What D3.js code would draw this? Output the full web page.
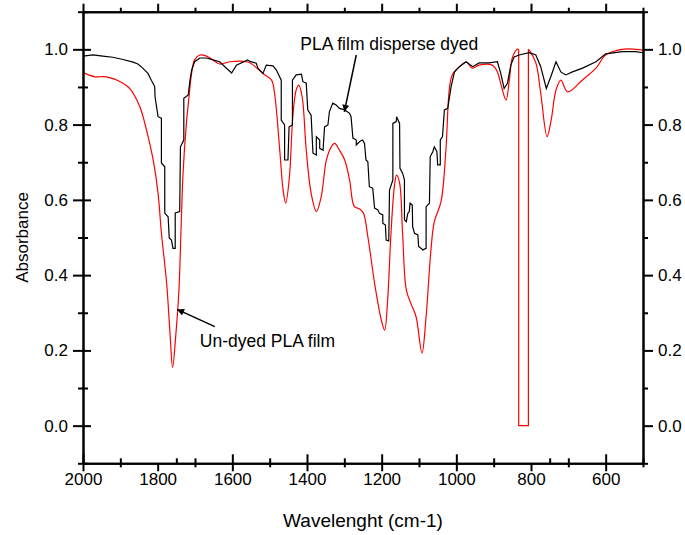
<!DOCTYPE html>
<html>
<head>
<meta charset="utf-8">
<script src="https://cdn.jsdelivr.net/npm/d3@7"></script>
<style>
  body { margin: 0; background: #fff; }
  svg text { font-family: "Liberation Sans", Arial, sans-serif; }
</style>
</head>
<body>
<div id="chart"></div>
<script>
// wavenumber (cm-1) / absorbance
const undyedWave = [2000,1968,1937,1893,1874,1848,1830,1812,1799,1790,1776,1767,1760,1751,1743,1737,1732,1723,1716,1709,1701,1687,1669,1652,1634,1607,1562,1551,1518,1495,1487,1473,1464,1457,1447,1438,1429,1422,1413,1402,1389,1375,1362,1348,1335,1326,1313,1299,1286,1273,1259,1249,1237,1219,1201,1192,1184,1175,1166,1160,1152,1144,1134,1121,1108,1092,1081,1068,1059,1041,1028,1019,1011,992,973,957,939,904,890,880,867,858,850,837,833,833,807,807,805,787,774,757,746,733,720,702,663,626,600,556,519,500];
const undyedAbs = [0.938,0.927,0.927,0.910,0.895,0.848,0.786,0.706,0.618,0.512,0.379,0.246,0.155,0.246,0.361,0.533,0.671,0.804,0.874,0.937,0.972,0.985,0.982,0.972,0.961,0.967,0.967,0.963,0.936,0.918,0.884,0.732,0.626,0.591,0.662,0.821,0.892,0.905,0.874,0.732,0.618,0.569,0.608,0.706,0.741,0.750,0.732,0.706,0.653,0.582,0.576,0.565,0.502,0.379,0.281,0.254,0.334,0.512,0.635,0.666,0.645,0.512,0.361,0.323,0.290,0.193,0.290,0.467,0.542,0.595,0.732,0.892,0.932,0.953,0.966,0.950,0.958,0.958,0.940,0.905,0.865,0.918,0.977,1.0,1.0,0.0,0.0,1.0,0.998,0.964,0.884,0.768,0.812,0.892,0.918,0.887,0.918,0.950,0.985,1.0,1.0,0.998];

const dyedWave = [2000,1973,1947,1920,1893,1866,1853,1840,1826,1817,1808,1807,1799,1790,1790,1781,1781,1772,1769,1763,1759,1753,1753,1741,1739,1730,1730,1718,1714,1709,1701,1687,1669,1652,1634,1602,1589,1559,1553,1536,1531,1518,1509,1491,1482,1469,1469,1460,1460,1451,1448,1439,1439,1429,1415,1411,1402,1398,1389,1384,1375,1375,1366,1366,1357,1353,1344,1340,1331,1322,1313,1299,1286,1282,1277,1268,1268,1259,1251,1246,1242,1237,1233,1224,1219,1210,1206,1197,1197,1190,1188,1181,1179,1170,1170,1161,1160,1152,1151,1144,1139,1139,1134,1130,1126,1124,1118,1117,1112,1103,1101,1094,1090,1081,1081,1072,1070,1063,1059,1052,1050,1043,1043,1037,1032,1023,1014,1005,992,974,956,939,912,890,881,872,863,854,845,832,805,787,774,759,747,733,720,707,689,662,626,600,555,520,500];
const dyedAbs = [0.982,0.985,0.982,0.979,0.973,0.966,0.961,0.950,0.936,0.918,0.901,0.874,0.821,0.817,0.698,0.688,0.565,0.555,0.499,0.493,0.471,0.471,0.565,0.569,0.741,0.759,0.870,0.879,0.914,0.945,0.967,0.977,0.977,0.972,0.967,0.937,0.958,0.972,0.968,0.963,0.949,0.936,0.958,0.956,0.945,0.918,0.812,0.799,0.706,0.706,0.794,0.799,0.918,0.932,0.934,0.914,0.910,0.839,0.825,0.724,0.719,0.768,0.759,0.737,0.732,0.794,0.799,0.834,0.857,0.852,0.843,0.839,0.830,0.821,0.764,0.759,0.746,0.755,0.759,0.750,0.706,0.701,0.635,0.631,0.578,0.573,0.564,0.560,0.538,0.533,0.493,0.491,0.626,0.653,0.803,0.808,0.821,0.803,0.684,0.671,0.653,0.547,0.542,0.564,0.569,0.591,0.586,0.529,0.511,0.507,0.476,0.471,0.467,0.471,0.582,0.591,0.715,0.728,0.741,0.728,0.693,0.693,0.759,0.768,0.839,0.843,0.901,0.940,0.954,0.967,0.954,0.964,0.964,0.967,0.936,0.896,0.910,0.958,0.980,0.985,0.991,0.985,0.954,0.896,0.927,0.967,0.940,0.932,0.940,0.950,0.967,0.988,0.994,0.994,0.991];

const xMajor = [2000,1800,1600,1400,1200,1000,800,600];
const xMinor = [1900,1700,1500,1300,1100,900,700,500];
const xOutOnly = [1800,800];   // bottom ticks drawn only below the axis
const xInnerExtra = [1750,750]; // short ticks above the bottom axis
const yMajor = [0.0,0.2,0.4,0.6,0.8,1.0];
const yMinor = [-0.1,0.1,0.3,0.5,0.7,0.9,1.1];

const width = 685, height = 535;
const margin = {top: 11.7, right: 42, bottom: 71.7, left: 83};

const svg = d3.select('#chart').append('svg')
  .attr('width', width)
  .attr('height', height);

const x = d3.scaleLinear().domain([2000, 500]).range([margin.left, width - margin.right]);
const y = d3.scaleLinear().domain([-0.1, 1.1]).range([height - margin.bottom, margin.top]);

const fmt = d3.format('.1f');

//lines
const undyed = undyedWave.map((w, i) => [w, undyedAbs[i]]);
const dyed = dyedWave.map((w, i) => [w, dyedAbs[i]]);

// the zero-drop box of the red trace is straight, the rest is smooth
const z0 = undyedAbs.indexOf(0.0);
const z1 = undyedAbs.lastIndexOf(0.0);
const smooth = d3.line().x(d => x(d[0])).y(d => y(d[1])).curve(d3.curveCatmullRom.alpha(0.5));
const straight = d3.line().x(d => x(d[0])).y(d => y(d[1]));

const redPieces = [
  {pts: undyed.slice(0, z0), gen: smooth},
  {pts: undyed.slice(z0 - 1, z1 + 2), gen: straight},
  {pts: undyed.slice(z1 + 1), gen: smooth}
];
redPieces.forEach(p => {
  svg.append('path').datum(p.pts)
    .attr('d', p.gen)
    .attr('fill', 'none')
    .attr('stroke', '#ff0000').attr('stroke-width', 1.2);
});

svg.append('path').datum(dyed)
  .attr('d', straight)
  .attr('fill', 'none')
  .attr('stroke', '#000').attr('stroke-width', 1.2);

//axes
function styleAxis(g) {
  g.select('.domain').attr('stroke-width', 2);
  g.selectAll('.tick line').attr('stroke-width', 2);
  g.selectAll('.tick text').attr('font-size', 17).attr('fill', '#000')
    .attr('font-family', '"Liberation Sans", Arial, sans-serif');
}

const yB = height - margin.bottom, yT = margin.top;
const xL = margin.left, xR = width - margin.right;

svg.append('g').attr('transform', `translate(0,${yB})`)
  .call(d3.axisBottom(x).tickValues(xMinor).tickSize(4).tickSizeOuter(0).tickFormat(''))
  .call(g => g.selectAll('.tick line').attr('y1', -5))
  .call(styleAxis);
svg.append('g').attr('transform', `translate(0,${yB})`)
  .call(d3.axisBottom(x).tickValues(xMajor).tickSize(8).tickPadding(2).tickSizeOuter(0).tickFormat(d3.format('d')))
  .call(g => g.selectAll('.tick line').attr('y1', d => xOutOnly.includes(d) ? 0 : -9))
  .call(styleAxis);
svg.append('g').attr('transform', `translate(0,${yB})`)
  .call(d3.axisBottom(x).tickValues(xInnerExtra).tickSize(0).tickSizeOuter(0).tickFormat(''))
  .call(g => g.selectAll('.tick line').attr('y1', -5))
  .call(g => g.select('.domain').remove())
  .call(styleAxis);

svg.append('g').attr('transform', `translate(0,${yT})`)
  .call(d3.axisTop(x).tickValues(xMinor).tickSize(4).tickSizeOuter(0).tickFormat(''))
  .call(styleAxis);
svg.append('g').attr('transform', `translate(0,${yT})`)
  .call(d3.axisTop(x).tickValues(xMajor).tickSize(8).tickSizeOuter(0).tickFormat(''))
  .call(styleAxis);

svg.append('g').attr('transform', `translate(${xL},0)`)
  .call(d3.axisLeft(y).tickValues(yMinor).tickSize(5).tickSizeOuter(0).tickFormat(''))
  .call(g => g.selectAll('.tick line').attr('x1', 5))
  .call(styleAxis);
svg.append('g').attr('transform', `translate(${xL},0)`)
  .call(d3.axisLeft(y).tickValues(yMajor).tickSize(10).tickPadding(5).tickSizeOuter(0).tickFormat(fmt))
  .call(g => g.selectAll('.tick line').attr('x1', 8))
  .call(styleAxis);

svg.append('g').attr('transform', `translate(${xR},0)`)
  .call(d3.axisRight(y).tickValues(yMinor).tickSize(5).tickSizeOuter(0).tickFormat(''))
  .call(styleAxis);
svg.append('g').attr('transform', `translate(${xR},0)`)
  .call(d3.axisRight(y).tickValues(yMajor).tickSize(10).tickPadding(5).tickSizeOuter(0).tickFormat(fmt))
  .call(styleAxis);

//titles
svg.append('text')
  .attr('x', (xL + xR) / 2).attr('y', 527)
  .attr('text-anchor', 'middle').attr('font-size', 19)
  .text('Wavelenght (cm-1)');

svg.append('text')
  .attr('transform', `translate(28,${(yT + yB) / 2}) rotate(-90)`)
  .attr('text-anchor', 'middle').attr('font-size', 17)
  .text('Absorbance');

//annotations
svg.append('defs').append('marker')
  .attr('id', 'arrow')
  .attr('viewBox', '0 0 10 10')
  .attr('refX', 10).attr('refY', 5)
  .attr('markerWidth', 11).attr('markerHeight', 7)
  .attr('markerUnits', 'userSpaceOnUse')
  .attr('orient', 'auto')
  .append('path').attr('d', 'M0,0L10,5L0,10Z').attr('fill', '#000');

const notes = [
  {text: 'PLA film disperse dyed', tx: 1418, ty: 0.998, from: [1268, 0.985], to: [1300, 0.834]},
  {text: 'Un-dyed PLA film', tx: 1687, ty: 0.210, from: [1647, 0.263], to: [1748, 0.309]}
];

notes.forEach(n => {
  svg.append('line')
    .attr('x1', x(n.from[0])).attr('y1', y(n.from[1]))
    .attr('x2', x(n.to[0])).attr('y2', y(n.to[1]))
    .attr('stroke', '#000').attr('stroke-width', 1.5)
    .attr('marker-end', 'url(#arrow)');
  svg.append('text')
    .attr('x', x(n.tx)).attr('y', y(n.ty))
    .attr('font-size', 17.5)
    .text(n.text);
});
</script>
</body>
</html>
